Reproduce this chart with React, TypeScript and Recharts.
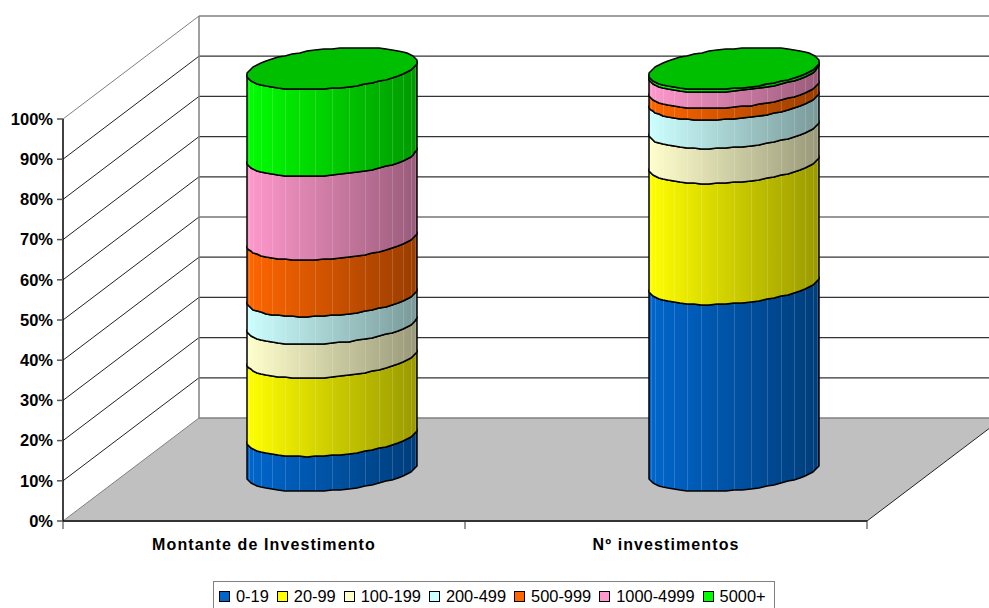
import { BarChart, Bar, XAxis, YAxis, Legend, usePlotArea } from "recharts";

const categories = ["Montante de Investimento", "Nº investimentos"];
const seriesNames = ["0-19", "20-99", "100-199", "200-499", "500-999", "1000-4999", "5000+"];
const seriesColors = ["#0066CC", "#FFFF00", "#FFFFCC", "#CCFFFF", "#FF6600", "#FF99CC", "#00FF00"];

// share of each bracket, one array per category
const montante = [8.7, 19.5, 8.4, 6.9, 14.1, 20.8, 21.6];
const investimentos = [46.5, 30.1, 8.7, 7.1, 2.9, 4.0, 0.7];
const percentTicks = [0, 10, 20, 30, 40, 50, 60, 70, 80, 90, 100];

const rows = categories.map((name, c) => {
  const values = c === 0 ? montante : investimentos;
  const row: Record<string, string | number> = { name };
  seriesNames.forEach((s, i) => { row[s] = values[i]; });
  return row;
});

const FONT = '"Liberation Sans", Arial, sans-serif';

// 3D box the chart sits in: how far the back wall is shifted from the front plane
const DEPTH_X = 136;
const DEPTH_Y = 103;

// cylinder footprint, a circle seen under the same projection as the floor
const LIFT_X = 68;
const LIFT_Y = 50.5;
const DISC_Y = 21;
const DISC_X = (DISC_Y * DEPTH_X) / DEPTH_Y;
const FACETS = 32;

function shade(hex: string, f: number) {
  const n = parseInt(hex.slice(1), 16);
  const c = [(n >> 16) & 255, (n >> 8) & 255, n & 255].map((v) => Math.round(v * f));
  return `rgb(${c[0]},${c[1]},${c[2]})`;
}

function discPoint(cx: number, cy: number, halfW: number, deg: number): [number, number] {
  const r = Math.sqrt(halfW * halfW - DISC_X * DISC_X);
  const t = (deg * Math.PI) / 180;
  return [
    Math.round(cx + r * Math.cos(t) + DISC_X * Math.sin(t)),
    Math.round(cy - DISC_Y * Math.sin(t)),
  ];
}

function frontArc(cx: number, cy: number, halfW: number) {
  const start = 180 + (Math.atan(DISC_X / Math.sqrt(halfW * halfW - DISC_X * DISC_X)) * 180) / Math.PI;
  const pts: [number, number][] = [];
  for (let i = 0; i <= FACETS; i++) pts.push(discPoint(cx, cy, halfW, start + (i * 180) / FACETS));
  return pts;
}

function fullRing(cx: number, cy: number, halfW: number) {
  const pts: [number, number][] = [];
  for (let i = 0; i < FACETS * 2; i++) pts.push(discPoint(cx, cy, halfW, 19 + (i * 180) / FACETS));
  return pts;
}

const toPath = (pts: [number, number][]) => pts.map((p) => p.join(",")).join(" ");

function CylinderSegment(props: any) {
  const { x, y, width, height, fill, gradientId, capped } = props;
  const halfW = width / 2;
  const cx = x + halfW + LIFT_X;
  const topY = y - LIFT_Y;
  const bottomY = y + height - LIFT_Y;
  const lower = frontArc(cx, bottomY, halfW);
  const upper = frontArc(cx, topY, halfW);
  const outline = [...lower, ...[...upper].reverse()];
  return (
    <g>
      <defs>
        <linearGradient id={gradientId} x1="0" x2="1" y1="0" y2="0">
          <stop offset="0" stopColor={shade(fill, 1)} />
          <stop offset="1" stopColor={shade(fill, 0.6)} />
        </linearGradient>
      </defs>
      <polygon points={toPath(outline)} fill={`url(#${gradientId})`} stroke="none" />
      {/* faint seam on every second facet edge */}
      {lower.map((p, i) => (i % 2 === 0 && i > 0 && i < FACETS ? (
        <line key={i} x1={p[0] + 0.5} x2={p[0] + 0.5} y1={upper[i][1]} y2={p[1]}
              stroke="#fff" strokeOpacity={0.16} strokeWidth={1} />
      ) : null))}
      <polygon points={toPath(outline)} fill="none" stroke="#000" strokeWidth={1.5} strokeLinejoin="round" />
      {capped && (
        <polygon points={toPath(fullRing(cx, topY, halfW))} fill={shade(fill, 0.75)}
                 stroke="#000" strokeWidth={1.5} strokeLinejoin="round" />
      )}
    </g>
  );
}

// side wall, back wall, floor and the category separators on the front edge
function Walls() {
  const plot = usePlotArea();
  if (!plot) return null;
  const left = plot.x;
  const right = plot.x + plot.width;
  const bottom = plot.y + plot.height;
  const backX = left + DEPTH_X;
  const at = (t: number) => plot.y + plot.height * (1 - t / 100);
  const GRAY = "#808080";
  return (
    <g>
      <polygon fill="#C0C0C0" stroke="none"
               points={`${left},${bottom} ${backX},${bottom - DEPTH_Y} ${right + DEPTH_X},${bottom - DEPTH_Y} ${right},${bottom}`} />
      {percentTicks.map((t) => {
        const wall = t === 0 || t === 100;
        return (
          <g key={t}>
            <line x1={backX} x2={right + DEPTH_X} y1={at(t) - DEPTH_Y} y2={at(t) - DEPTH_Y}
                  stroke={wall ? GRAY : "#333"} strokeWidth={wall ? 1.5 : 1.2} />
            <line x1={left} x2={backX} y1={at(t)} y2={at(t) - DEPTH_Y}
                  stroke={wall ? GRAY : "#222"} strokeWidth={1} />
          </g>
        );
      })}
      <line x1={backX} x2={backX} y1={plot.y - DEPTH_Y} y2={bottom - DEPTH_Y} stroke={GRAY} strokeWidth={1.5} />
      <line x1={right} x2={right + DEPTH_X} y1={bottom} y2={bottom - DEPTH_Y} stroke="#222" strokeWidth={1} />
      {[left, left + plot.width / 2, right].map((tx) => (
        <line key={tx} x1={tx} x2={tx} y1={bottom} y2={bottom + 8} stroke="#333" strokeWidth={1} />
      ))}
    </g>
  );
}

function LegendBox({ payload }: any) {
  return (
    <div style={{
      display: "flex", alignItems: "center", boxSizing: "border-box", width: 562, height: 30,
      border: "1.5px solid #808080", background: "#fff", paddingLeft: 5,
      fontFamily: FONT, fontSize: 16.4, color: "#000", whiteSpace: "nowrap",
    }}>
      {(payload || []).map((item: any) => (
        <span key={item.value} style={{ display: "flex", alignItems: "center", marginRight: 8 }}>
          <span style={{
            width: 11, height: 11, boxSizing: "border-box", border: "1.5px solid #000",
            background: item.color, marginRight: 6,
          }} />
          {item.value}
        </span>
      ))}
    </div>
  );
}

export default function App() {
  return (
    <div style={{ position: "absolute", left: 0, top: 0, width: 989, height: 608, overflow: "hidden" }}>
      <BarChart width={989} height={608} data={rows} barSize={170}
                margin={{ top: 119, right: 122, bottom: 0, left: 0 }}>
        <Walls />
        <XAxis dataKey="name" height={87} interval={0} tickLine={false} tickMargin={12}
               axisLine={{ stroke: "#333", strokeWidth: 2 }}
               tick={{ fill: "#000", fontSize: 16, fontWeight: 700, fontFamily: FONT, letterSpacing: 1.1 }} />
        <YAxis width={63} domain={[0, 100]} ticks={percentTicks} interval={0} tickSize={6} tickMargin={4}
               tickFormatter={(v: number) => `${v}%`}
               axisLine={{ stroke: "#000", strokeWidth: 1.5 }} tickLine={{ stroke: "#555", strokeWidth: 1.5 }}
               tick={{ fill: "#000", fontSize: 16.5, fontWeight: 700, fontFamily: FONT }} />
        <Legend layout="horizontal" align="center" verticalAlign="middle" itemSorter={null} content={<LegendBox />}
                wrapperStyle={{ left: 213, top: 581, width: 562, height: 30 }} />
        {seriesNames.map((s, i) => (
          <Bar key={s} dataKey={s} name={s} stackId="total" fill={seriesColors[i]} isAnimationActive={false}
               shape={(p: any) => (
                 <CylinderSegment {...p} gradientId={`cyl-${i}-${p.index}`} capped={i === seriesNames.length - 1} />
               )} />
        ))}
      </BarChart>
    </div>
  );
}
